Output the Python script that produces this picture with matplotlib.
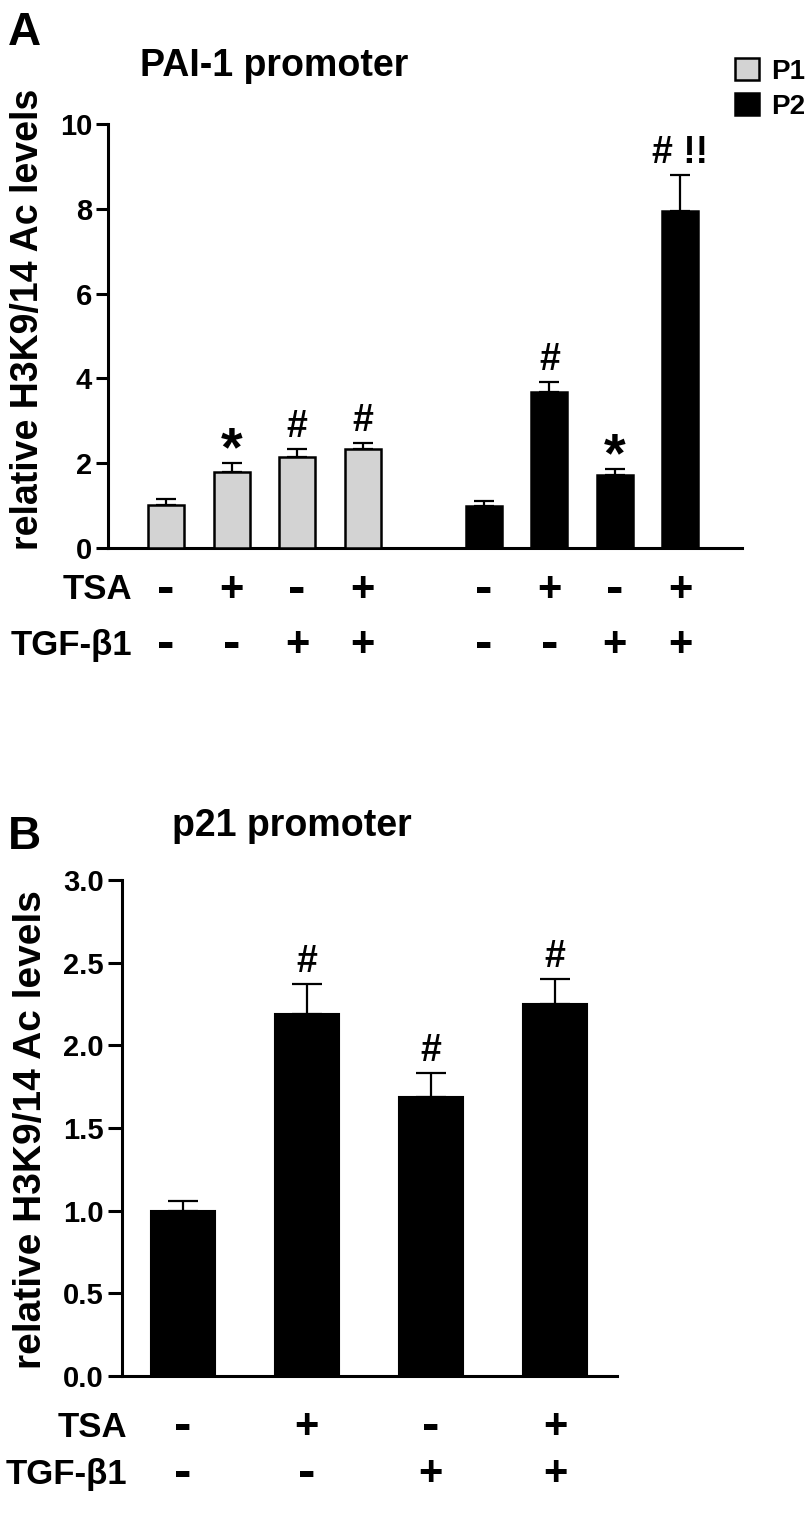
import numpy as np
import matplotlib
matplotlib.use("Agg")
import matplotlib.pyplot as plt

plt.rcParams['font.family'] = ['Liberation Sans', 'DejaVu Sans']
plt.rcParams['font.weight'] = 'bold'

# panel A: PAI-1 promoter
p1_vals = [1.01, 1.79, 2.15, 2.33]
p1_err = [0.15, 0.21, 0.18, 0.14]
p1_marks = ['', '*', '#', '#']
p2_vals = [0.99, 3.68, 1.71, 7.94]
p2_err = [0.11, 0.24, 0.15, 0.86]
p2_marks = ['', '#', '*', '# !!']

# panel B: p21 promoter
p21_vals = [1.00, 2.19, 1.69, 2.25]
p21_err = [0.06, 0.18, 0.14, 0.15]
p21_marks = ['', '#', '#', '#']

tsa = ['-', '+', '-', '+']
tgf = ['-', '-', '+', '+']
a_ticks = [0, 2, 4, 6, 8, 10]
b_ticks = [0.0, 0.5, 1.0, 1.5, 2.0, 2.5, 3.0]

W, H = 812, 1516
fig = plt.figure(figsize=(W / 100, H / 100), dpi=100)


def px_axes(left, top, right, bottom):
    return fig.add_axes([left / W, 1 - bottom / H, (right - left) / W, (bottom - top) / H])


def style(ax, ticklen):
    for s in ['top', 'right']:
        ax.spines[s].set_visible(False)
    for s in ['left', 'bottom']:
        ax.spines[s].set_linewidth(2.2)
    ax.tick_params(axis='y', length=ticklen, width=2.2, labelsize=21, pad=3)
    ax.tick_params(axis='x', length=0, labelbottom=False)


def marks(ax, x, vals, errs, labels):
    for xi, v, e, t in zip(x, vals, errs, labels):
        if not t:
            continue
        if t == '*':
            ax.annotate(t, xy=(xi, v + e), xytext=(0, -10), textcoords='offset points',
                        ha='center', va='bottom', fontsize=40, fontweight='bold')
        else:
            ax.annotate(t, xy=(xi, v + e), xytext=(0, 3), textcoords='offset points',
                        ha='center', va='bottom', fontsize=27, fontweight='bold')


def conditions(ax, x, tsa_signs, tgf_signs, rows_y, label_x=None):
    tr = ax.get_xaxis_transform()
    for name, signs, yy in zip(['TSA', 'TGF-β1'], [tsa_signs, tgf_signs], rows_y):
        if label_x is not None:
            ax.text(label_x, yy, name, transform=ax.transAxes, ha='right', va='center',
                    fontsize=25, fontweight='bold', clip_on=False)
        for xi, s in zip(x, signs):
            if s == '-':
                ax.text(xi, yy, s, transform=tr, ha='center', va='center',
                        fontsize=38, fontweight='bold', clip_on=False)
            else:
                ax.text(xi, yy, s, transform=tr, ha='center', va='center',
                        fontsize=30, fontweight='bold', clip_on=False)


# ---- panel A ----
axA = px_axes(108, 124, 742, 548)
xa1 = np.arange(4)
xa2 = np.arange(4) + 4.85
bw = 0.55
b1 = axA.bar(xa1, p1_vals, bw, color='#d3d3d3', edgecolor='black', linewidth=1.8, label='P1', zorder=3)
b2 = axA.bar(xa2, p2_vals, bw, color='black', edgecolor='black', linewidth=1.8, label='P2', zorder=3)
axA.errorbar(xa1, p1_vals, yerr=[[0] * 4, p1_err], fmt='none', ecolor='black',
             elinewidth=1.6, capsize=7, capthick=1.6, zorder=2)
axA.errorbar(xa2, p2_vals, yerr=[[0] * 4, p2_err], fmt='none', ecolor='black',
             elinewidth=1.6, capsize=7, capthick=1.6, zorder=2)
axA.set_xlim(-0.885, 8.79)
axA.set_ylim(0, 10)
axA.set_yticks(a_ticks)
style(axA, 8.5)
axA.set_ylabel('relative H3K9/14 Ac levels', fontsize=27, fontweight='bold')
axA.yaxis.set_label_coords(-0.098, 0.54)
marks(axA, xa1, p1_vals, p1_err, p1_marks)
marks(axA, xa2, p2_vals, p2_err, p2_marks)
conditions(axA, xa1, tsa, tgf, [-0.099, -0.229], 0.038)
conditions(axA, xa2, tsa, tgf, [-0.099, -0.229])

fig.legend(handles=[b1, b2], loc='upper left', bbox_to_anchor=(735 / W, 1 - 58 / H),
           frameon=False, fontsize=20, handlelength=0.85, handleheight=0.85,
           handletextpad=0.45, labelspacing=0.3, borderpad=0, borderaxespad=0)

fig.text(8 / W, 1 - 33 / H, 'A', fontsize=33, fontweight='bold', va='center', ha='left')
fig.text(140 / W, 1 - 66 / H, 'PAI-1 promoter', fontsize=27, fontweight='bold', va='center', ha='left')

# ---- panel B ----
axB = px_axes(122, 880, 617, 1376)
xb = np.arange(4)
axB.bar(xb, p21_vals, 0.516, color='black', edgecolor='black', linewidth=1.5, zorder=3)
axB.errorbar(xb, p21_vals, yerr=[[0] * 4, p21_err], fmt='none', ecolor='black',
             elinewidth=1.6, capsize=11, capthick=1.6, zorder=2)
axB.set_xlim(-0.49, 3.5)
axB.set_ylim(0, 3)
axB.set_yticks(b_ticks)
axB.set_yticklabels([f'{t:.1f}' for t in b_ticks])
style(axB, 10)
axB.set_ylabel('relative H3K9/14 Ac levels', fontsize=28, fontweight='bold')
axB.yaxis.set_label_coords(-0.147, 0.496)
marks(axB, xb, p21_vals, p21_err, p21_marks)
conditions(axB, xb, tsa, tgf, [-0.103, -0.198], 0.01)

fig.text(8 / W, 1 - 837 / H, 'B', fontsize=33, fontweight='bold', va='center', ha='left')
fig.text(172 / W, 1 - 826 / H, 'p21 promoter', fontsize=27, fontweight='bold', va='center', ha='left')

fig.savefig('out.png', dpi=100)
